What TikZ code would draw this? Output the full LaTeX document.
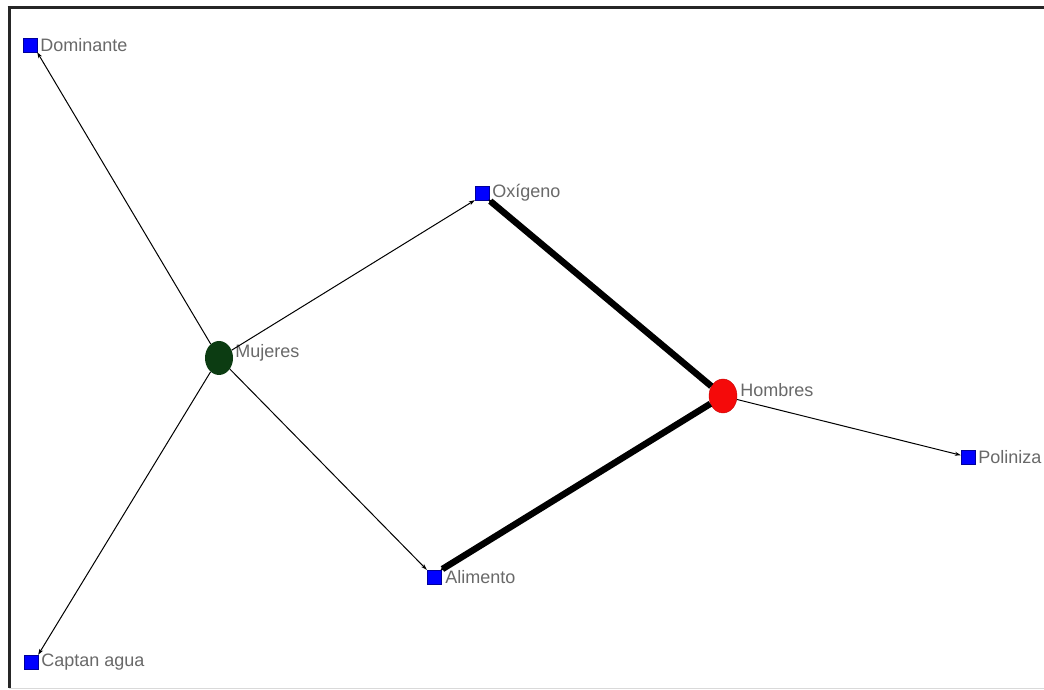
\documentclass[tikz,border=0pt]{standalone}
\usepackage{fontspec}
\setmainfont{Liberation Sans}
\usetikzlibrary{arrows.meta,shapes.geometric}
\definecolor{lblgray}{RGB}{105,105,105}
\definecolor{mgreen}{RGB}{12,60,18}
\definecolor{hred}{RGB}{245,10,10}
\tikzset{
  sq/.style={rectangle, fill=blue, draw=blue!60!black, line width=0.4pt, minimum size=14pt, inner sep=0pt},
  circ/.style={ellipse, minimum width=28pt, minimum height=34pt, inner sep=0pt},
  lbl/.style={text=lblgray, font=\fontsize{18}{19}\selectfont, inner sep=1pt},
  thin edge/.style={draw=black, line width=1pt, -{Stealth[length=6pt,width=4pt]}},
  thick edge/.style={draw=black, line width=6.5pt, -{Stealth[length=4pt,width=4pt]}, shorten >=-1pt}
}
\begin{document}
\begin{tikzpicture}[x=1pt,y=1pt]
\useasboundingbox (0,0) rectangle (1044,690);
\fill[white] (0,0) rectangle (1044,690);
\draw[line width=3pt, black!85] (9,683.5) -- (9,2);
\draw[line width=3pt, black!85] (7.5,682) -- (1044,682);
\draw[line width=0.8pt, black!15] (9,2) -- (1044,2);

\node[sq, label={[lbl, anchor=west, xshift=2pt]east:Dominante}] (dom) at (30,645) {};
\node[circ, fill=mgreen, label={[lbl, anchor=west, xshift=1pt, yshift=5pt]east:Mujeres}] (muj) at (219,332) {};
\node[sq, label={[lbl, anchor=west, xshift=2pt]east:Oxígeno}] (oxi) at (482,497) {};
\node[circ, fill=hred, draw=hred!80!black, label={[lbl, anchor=west, xshift=2pt, yshift=6pt]east:Hombres}] (hom) at (723,294) {};
\node[sq, label={[lbl, anchor=west, xshift=3pt]east:Alimento}] (ali) at (434,113) {};
\node[sq, label={[lbl, anchor=west, xshift=2pt]east:Poliniza}] (pol) at (968,233) {};
\node[sq, label={[lbl, anchor=west, xshift=2pt]east:Captan agua}] (cap) at (31,28) {};

\draw[thin edge] (muj) -- (dom.south east);
\draw[thin edge] (muj) -- (oxi.south west);
\draw[thin edge] (muj) -- (ali.north west);
\draw[thin edge] (muj) -- (cap.north east);
\draw[thin edge] (hom) -- (pol);
\draw[thick edge] (hom) -- (oxi.south east);
\draw[thick edge] (hom) -- (ali.north east);
\end{tikzpicture}
\end{document}
